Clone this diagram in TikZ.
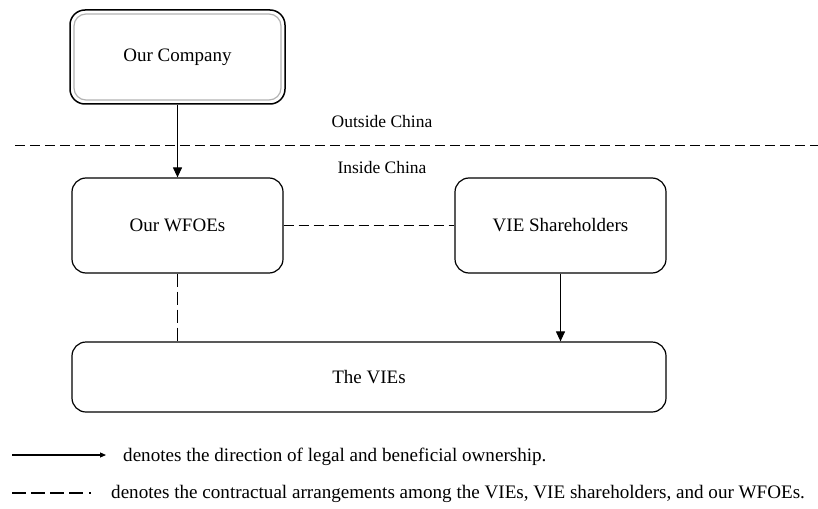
\documentclass[tikz,border=0pt]{standalone}
\usepackage{fontspec}
\setmainfont{Liberation Serif}
\usetikzlibrary{arrows.meta,positioning}
\begin{document}
\begin{tikzpicture}[x=1pt,y=-1pt,
  box/.style={draw=black,line width=1.2pt,rounded corners=14pt,inner sep=0pt,font=\fontsize{19}{22}\selectfont},
  own/.style={line width=1.1pt,-{Triangle[length=10pt,width=9pt]}},
  ctr/.style={line width=1.1pt,dash pattern=on 10pt off 5pt},
  vctr/.style={line width=1.1pt,dash pattern=on 13pt off 5pt},
  lbl/.style={font=\fontsize{17.5}{20}\selectfont,inner sep=0pt},
  leg/.style={font=\fontsize{19.1}{22}\selectfont,inner sep=0pt,anchor=west}]
\useasboundingbox (0,0) rectangle (818,508);
% Our Company (double border)
\node[box,minimum width=215pt,minimum height=94pt,line width=1.5pt,rounded corners=15pt] (co) at (177.5,57) {Our Company};
\draw[gray!60,line width=1.2pt,rounded corners=12pt] (74,14) rectangle (281,100);
% China boundary
\coordinate (bl) at (15,145);
\coordinate (br) at (818,145);
\draw[ctr,line width=1pt] (bl) -- (br);
\node[lbl] (out) at (382,122) {Outside China};
\node[lbl] (in) at (382,168) {Inside China};
% boxes
\node[box,minimum width=211pt,minimum height=95pt] (wf) at (177.5,225.5) {Our WFOEs};
\node[box,minimum width=211pt,minimum height=95pt] (sh) at (560.5,225.5) {VIE Shareholders};
\node[box,minimum width=594pt,minimum height=70pt] (vie) at (369,377) {The VIEs};
% connectors
\draw[own] (co.south) -- (wf.north);
\draw[ctr] (wf.east) -- (sh.west);
\draw[vctr] (wf.south) -- (wf.south |- vie.north);
\draw[own] (sh.south) -- (sh.south |- vie.north);
% legend
\coordinate (a1) at (12,455);
\coordinate (a2) at (106,455);
\draw[line width=1.1pt,-{Triangle[length=6pt,width=5pt]}] (a1) -- (a2);
\node[leg] (l1) at (123,457) {denotes the direction of legal and beneficial ownership.};
\coordinate (d1) at (12,493);
\coordinate (d2) at (104,493);
\draw[line width=1.1pt,dash pattern=on 14pt off 5pt on 14pt off 5pt on 14pt off 5pt on 14pt off 6pt on 2pt off 20pt] (d1) -- (d2);
\node[leg] (l2) at (111,494) {denotes the contractual arrangements among the VIEs, VIE shareholders, and our WFOEs.};
\end{tikzpicture}
\end{document}
